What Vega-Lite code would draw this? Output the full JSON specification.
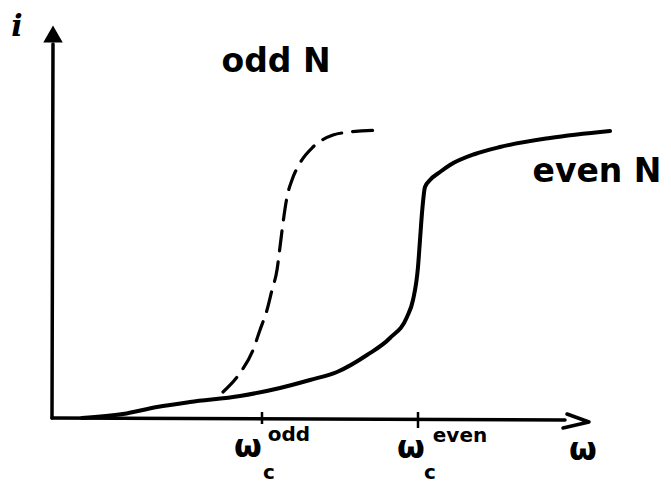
{
  "$schema": "https://vega.github.io/schema/vega-lite/v6.json",
  "width": 671,
  "height": 484,
  "autosize": {"type": "none"},
  "padding": 0,
  "background": "white",
  "config": {"view": {"stroke": null}},
  "datasets": {
    "even": [
      {"w": 82, "i": 66}, {"w": 123, "i": 70}, {"w": 157, "i": 77}, {"w": 190, "i": 82},
      {"w": 240, "i": 88}, {"w": 280, "i": 96}, {"w": 310, "i": 104},
      {"w": 337, "i": 112}, {"w": 367, "i": 129}, {"w": 390, "i": 146}, {"w": 407, "i": 167},
      {"w": 413, "i": 184}, {"w": 418, "i": 217}, {"w": 420, "i": 244}, {"w": 422, "i": 271},
      {"w": 425, "i": 297}, {"w": 430, "i": 304}, {"w": 440, "i": 312}, {"w": 450, "i": 319},
      {"w": 475, "i": 330}, {"w": 500, "i": 337}, {"w": 550, "i": 346}, {"w": 610, "i": 353}
    ],
    "odd": [
      {"w": 223, "i": 92}, {"w": 240, "i": 111}, {"w": 253, "i": 134}, {"w": 260, "i": 154},
      {"w": 267, "i": 174}, {"w": 272, "i": 194}, {"w": 277, "i": 214}, {"w": 280, "i": 237},
      {"w": 283, "i": 261}, {"w": 287, "i": 287}, {"w": 292, "i": 304}, {"w": 300, "i": 321},
      {"w": 313, "i": 337}, {"w": 333, "i": 349}, {"w": 350, "i": 352}, {"w": 382, "i": 354}
    ],
    "axes": [
      {"seg": "x", "o": 0, "w": 52, "i": 66}, {"seg": "x", "o": 1, "w": 565, "i": 64},
      {"seg": "y", "o": 0, "w": 52, "i": 66}, {"seg": "y", "o": 1, "w": 53, "i": 440},
      {"seg": "xa", "o": 0, "w": 567, "i": 70}, {"seg": "xa", "o": 1, "w": 589, "i": 62}, {"seg": "xa", "o": 2, "w": 563, "i": 56}
    ],
    "ticks": [
      {"w": 262, "i1": 72, "i2": 60}, {"w": 418, "i1": 72, "i2": 56}
    ],
    "tip": [{"w": 53, "i": 450}],
    "big": [
      {"w": 276, "i": 422, "t": "odd N"},
      {"w": 597, "i": 312, "t": "even N"}
    ],
    "omega": [
      {"w": 248, "i": 37, "t": "ω"},
      {"w": 411, "i": 36, "t": "ω"},
      {"w": 583, "i": 34, "t": "ω"}
    ],
    "sup": [
      {"w": 289, "i": 49, "t": "odd"},
      {"w": 460, "i": 48, "t": "even"}
    ],
    "sub": [
      {"w": 269, "i": 11, "t": "c"},
      {"w": 430, "i": 11, "t": "c"}
    ],
    "ilab": [{"w": 17, "i": 457, "t": "i"}]
  },
  "layer": [
    {
      "data": {"name": "axes"},
      "mark": {"type": "line", "color": "black", "strokeWidth": 3.5, "strokeCap": "round", "strokeJoin": "round"},
      "encoding": {
        "x": {"field": "w", "type": "quantitative", "scale": {"domain": [0, 671], "nice": false, "zero": false}, "axis": null},
        "y": {"field": "i", "type": "quantitative", "scale": {"domain": [0, 484], "nice": false, "zero": false}, "axis": null},
        "detail": {"field": "seg"},
        "order": {"field": "o"}
      }
    },
    {
      "data": {"name": "ticks"},
      "mark": {"type": "rule", "color": "black", "strokeWidth": 2.5},
      "encoding": {
        "x": {"field": "w", "type": "quantitative"},
        "y": {"field": "i1", "type": "quantitative"},
        "y2": {"field": "i2"}
      }
    },
    {
      "data": {"name": "tip"},
      "mark": {"type": "point", "shape": "triangle-up", "filled": true, "color": "black", "opacity": 1, "size": 380},
      "encoding": {
        "x": {"field": "w", "type": "quantitative"},
        "y": {"field": "i", "type": "quantitative"}
      }
    },
    {
      "data": {"name": "even"},
      "mark": {"type": "line", "color": "black", "strokeWidth": 4, "interpolate": "monotone", "strokeCap": "round"},
      "encoding": {
        "x": {"field": "w", "type": "quantitative"},
        "y": {"field": "i", "type": "quantitative"}
      }
    },
    {
      "data": {"name": "odd"},
      "mark": {"type": "line", "color": "black", "strokeWidth": 3.2, "interpolate": "monotone", "strokeDash": [20, 11], "strokeCap": "round"},
      "encoding": {
        "x": {"field": "w", "type": "quantitative"},
        "y": {"field": "i", "type": "quantitative"}
      }
    },
    {
      "data": {"name": "big"},
      "mark": {"type": "text", "font": "DejaVu Sans", "fontSize": 33, "fontWeight": "bold", "align": "center", "baseline": "middle", "color": "black"},
      "encoding": {
        "x": {"field": "w", "type": "quantitative"},
        "y": {"field": "i", "type": "quantitative"},
        "text": {"field": "t"}
      }
    },
    {
      "data": {"name": "omega"},
      "mark": {"type": "text", "font": "DejaVu Sans", "fontSize": 32, "fontWeight": "bold", "align": "center", "baseline": "middle", "color": "black"},
      "encoding": {
        "x": {"field": "w", "type": "quantitative"},
        "y": {"field": "i", "type": "quantitative"},
        "text": {"field": "t"}
      }
    },
    {
      "data": {"name": "sup"},
      "mark": {"type": "text", "font": "DejaVu Sans", "fontSize": 20, "fontWeight": "bold", "align": "center", "baseline": "middle", "color": "black"},
      "encoding": {
        "x": {"field": "w", "type": "quantitative"},
        "y": {"field": "i", "type": "quantitative"},
        "text": {"field": "t"}
      }
    },
    {
      "data": {"name": "sub"},
      "mark": {"type": "text", "font": "DejaVu Sans", "fontSize": 20, "fontWeight": "bold", "align": "center", "baseline": "middle", "color": "black"},
      "encoding": {
        "x": {"field": "w", "type": "quantitative"},
        "y": {"field": "i", "type": "quantitative"},
        "text": {"field": "t"}
      }
    },
    {
      "data": {"name": "ilab"},
      "mark": {"type": "text", "font": "DejaVu Serif", "fontStyle": "italic", "fontWeight": "bold", "fontSize": 30, "align": "center", "baseline": "middle", "color": "black"},
      "encoding": {
        "x": {"field": "w", "type": "quantitative"},
        "y": {"field": "i", "type": "quantitative"},
        "text": {"field": "t"}
      }
    }
  ]
}
